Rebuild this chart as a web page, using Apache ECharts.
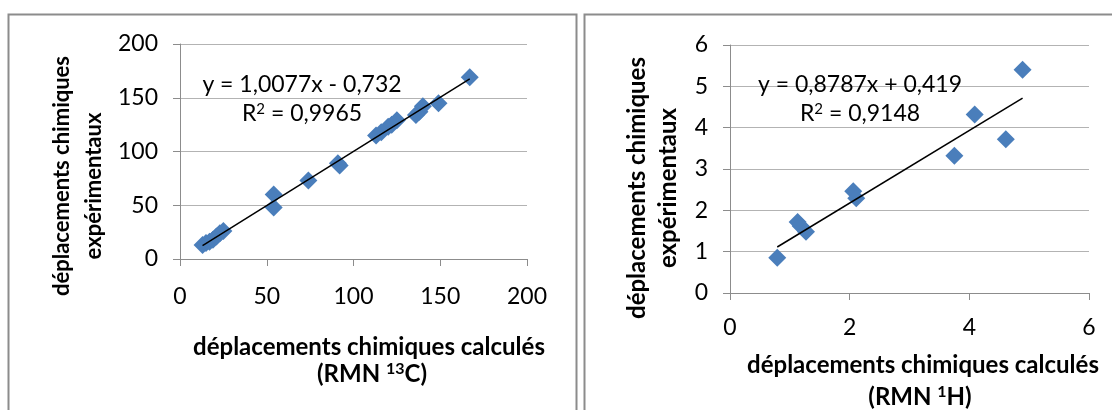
<!DOCTYPE html>
<html>
<head>
<meta charset="utf-8">
<script src="https://cdn.jsdelivr.net/npm/echarts@6/dist/echarts.min.js"></script>
<style>
html, body { margin: 0; padding: 0; background: #fff; }
#chart { width: 1112px; height: 410px; }
</style>
</head>
<body>
<div id="chart"></div>
<script>
// RMN 13C : déplacements calculés (x) / expérimentaux (y)
var c13Calc = [13, 15, 17, 19, 21, 23, 25, 54, 54, 74, 91, 92, 113, 116, 120, 122, 125, 136, 138, 140, 149, 167];
var c13Exp  = [13, 15, 16, 18, 21, 24, 26, 60, 48, 73, 89, 87, 115, 118, 123, 125, 129, 134, 137, 142, 145, 169];
var c13Fit = { a: 1.0077, b: -0.732 };
var c13Eq = ["y = 1,0077x - 0,732", "R{s|2} = 0,9965"];
var c13Ticks = [0, 50, 100, 150, 200];

// RMN 1H
var h1Calc = [0.79, 1.13, 1.18, 1.27, 2.06, 2.11, 3.75, 4.09, 4.61, 4.89];
var h1Exp  = [0.85, 1.72, 1.62, 1.48, 2.46, 2.29, 3.32, 4.32, 3.72, 5.40];
var h1Fit = { a: 0.8787, b: 0.419 };
var h1Eq = ["y = 0,8787x + 0,419", "R{s|2} = 0,9148"];
var h1XTicks = [0, 2, 4, 6];
var h1YTicks = [0, 1, 2, 3, 4, 5, 6];

var yTitle = ["déplacements chimiques", "expérimentaux"];
var xTitle = "déplacements chimiques calculés";

var FONT = "Lato";
var BLUE = "#4A7EBB";

function pairs(xs, ys) {
    var out = [];
    for (var i = 0; i < xs.length; i++) out.push([xs[i], ys[i]]);
    return out;
}
function trend(xs, fit) {
    var lo = Math.min.apply(null, xs), hi = Math.max.apply(null, xs);
    return [[lo, fit.a * lo + fit.b], [hi, fit.a * hi + fit.b]];
}
function valAxis(ticks, idx, extra) {
    var ax = {
        type: "value",
        gridIndex: idx,
        min: ticks[0],
        max: ticks[ticks.length - 1],
        interval: ticks[1] - ticks[0],
        axisLine: { show: true, onZero: false, lineStyle: { color: "#8c8c8c", width: 1 } },
        axisTick: { show: true, inside: false, length: 7, lineStyle: { color: "#8c8c8c" } },
        axisLabel: { color: "#000", fontFamily: FONT, fontSize: 23, margin: 22 },
        splitLine: { show: false }
    };
    for (var k in extra) ax[k] = extra[k];
    return ax;
}
// texte avec exposant {s|..}
function txt(x, y, s, opt) {
    var w = opt.bold ? "bold" : "normal";
    var st = {
        text: s, x: 0, y: 0, fill: "#000",
        fontFamily: FONT, fontSize: opt.size, fontWeight: w,
        align: "center", verticalAlign: "middle",
        rich: {
            s: {
                fontFamily: FONT, fontSize: Math.round(opt.size * 0.65), fontWeight: w,
                fill: "#000", padding: [0, 0, Math.round(opt.size * 0.45), 0]
            }
        }
    };
    return { type: "text", x: x, y: y, rotation: opt.rot || 0, style: st, z: 10 };
}

var grid1 = { splitLine: { show: true, lineStyle: { color: "#b3b3b3", width: 1 } } };

var chart = echarts.init(document.getElementById("chart"));
chart.setOption({
    backgroundColor: "#fff",
    animation: false,
    grid: [
        { left: 180, top: 44, width: 347, height: 215 },
        { left: 730, top: 45, width: 359, height: 248 }
    ],
    xAxis: [
        valAxis(c13Ticks, 0, { axisLabel: { color: "#000", fontFamily: FONT, fontSize: 23, margin: 26 } }),
        valAxis(h1XTicks, 1, { axisLabel: { color: "#000", fontFamily: FONT, fontSize: 23, margin: 23 } })
    ],
    yAxis: [
        valAxis(c13Ticks, 0, grid1),
        valAxis(h1YTicks, 1, grid1)
    ],
    series: [
        {
            type: "scatter", xAxisIndex: 0, yAxisIndex: 0,
            symbol: "diamond", symbolSize: 18,
            itemStyle: { color: BLUE, opacity: 1 },
            data: pairs(c13Calc, c13Exp)
        },
        {
            type: "line", xAxisIndex: 0, yAxisIndex: 0,
            symbol: "none", lineStyle: { color: "#000", width: 1.5 },
            data: trend(c13Calc, c13Fit), z: 3
        },
        {
            type: "scatter", xAxisIndex: 1, yAxisIndex: 1,
            symbol: "diamond", symbolSize: 18,
            itemStyle: { color: BLUE, opacity: 1 },
            data: pairs(h1Calc, h1Exp)
        },
        {
            type: "line", xAxisIndex: 1, yAxisIndex: 1,
            symbol: "none", lineStyle: { color: "#000", width: 1.5 },
            data: trend(h1Calc, h1Fit), z: 3
        }
    ],
    graphic: [
        // cadres des deux graphiques
        { type: "rect", shape: { x: 8.5, y: 14.5, width: 568, height: 430 },
          style: { fill: "none", stroke: "#8c8c8c", lineWidth: 2 } },
        { type: "rect", shape: { x: 584.5, y: 14.5, width: 560, height: 430 },
          style: { fill: "none", stroke: "#8c8c8c", lineWidth: 2 } },

        txt(302, 85, c13Eq[0], { size: 23 }),
        txt(302, 114, c13Eq[1], { size: 23 }),
        txt(860, 85, h1Eq[0], { size: 23 }),
        txt(860, 114, h1Eq[1], { size: 23 }),

        txt(62, 176, yTitle[0], { size: 22, bold: true, rot: Math.PI / 2 }),
        txt(94, 186, yTitle[1], { size: 22, bold: true, rot: Math.PI / 2 }),
        txt(637, 188, yTitle[0], { size: 24, bold: true, rot: Math.PI / 2 }),
        txt(668, 188, yTitle[1], { size: 24, bold: true, rot: Math.PI / 2 }),

        txt(369, 347, xTitle, { size: 24, bold: true }),
        txt(372, 374, "(RMN {s|13}C)", { size: 24, bold: true }),
        txt(923, 365, xTitle, { size: 24, bold: true }),
        txt(920, 397, "(RMN {s|1}H)", { size: 24, bold: true })
    ]
});
</script>
</body>
</html>
